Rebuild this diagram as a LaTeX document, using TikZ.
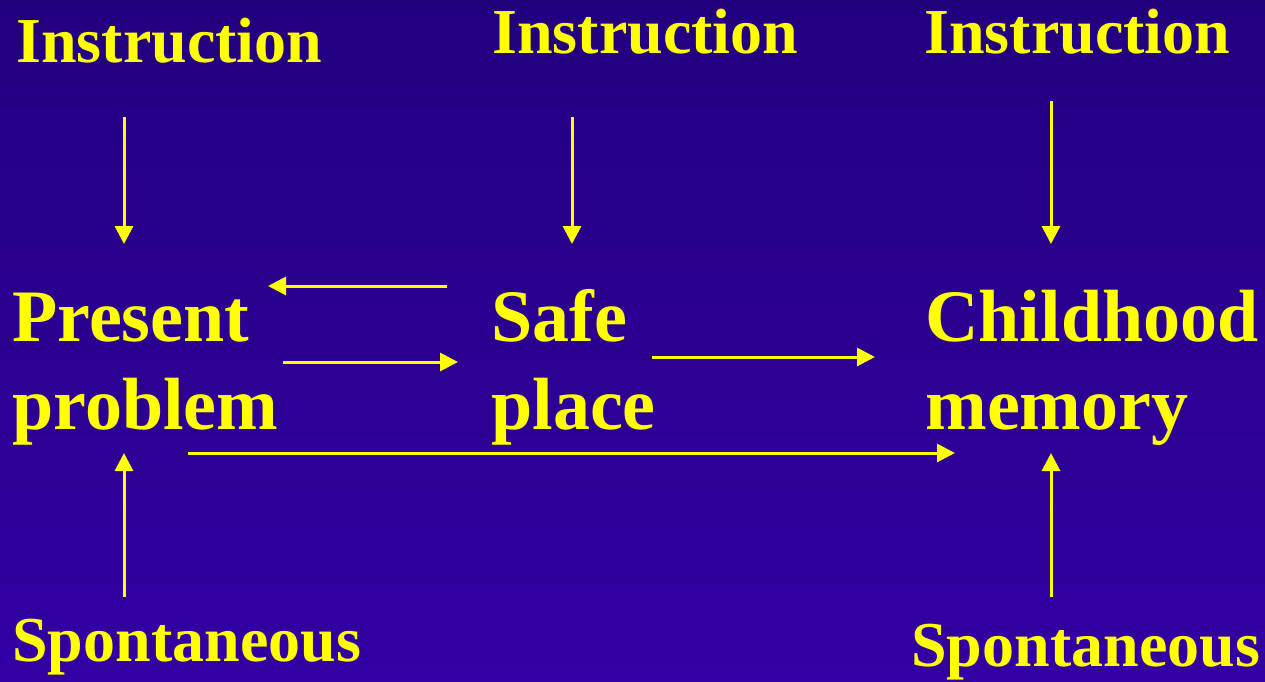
\documentclass[tikz,border=0pt]{standalone}
\usepackage{fontspec}
\setmainfont{Liberation Serif}
\usepackage{tikz}
\usetikzlibrary{arrows.meta,positioning,calc}

\definecolor{bgtop}{RGB}{33,0,126}
\definecolor{bgbot}{RGB}{51,0,163}
\definecolor{lbl}{RGB}{255,255,0}

\tikzset{
  small/.style={inner sep=0, anchor=base west, text=lbl, font=\fontsize{32}{38}\selectfont\bfseries},
  big/.style={inner sep=0, anchor=base west, text=lbl, align=left, font=\fontsize{37}{44}\selectfont\bfseries},
  arr/.style={draw=lbl, line width=1.5pt, -{Triangle[length=9pt,width=9pt]}}
}

\begin{document}
\begin{tikzpicture}[x=0.5pt,y=-0.5pt]
	  \shade[top color=bgtop, bottom color=bgbot] (0,0) rectangle (1265,681);
	  \useasboundingbox (0,0) rectangle (1265,681);
	  % sources
	  \node[small] (instrA) at (16,62) {Instruction};
	  \node[small] (instrB) at (492,53) {Instruction};
	  \node[small] (instrC) at (924,53) {Instruction};
	  \node[small] (spontA) at (12,661) {Spontaneous};
	  \node[small] (spontB) at (911,666) {Spontaneous};
	  % the three stages (base = last line)
	  \node[big] (pres) at (12,429) {Present\\problem};
	  \node[big] (safe) at (491,429) {Safe\\place};
	  \node[big] (child) at (925,429) {Childhood\\memory};
	  % arrows
	  \draw[arr] ($(instrA.base west)+(108,55)$) -- ($(pres.base west)+(112,-185)$);
	  \draw[arr] ($(instrB.base west)+(80,64)$) -- ($(safe.base west)+(81,-185)$);
	  \draw[arr] ($(instrC.base west)+(127,48)$) -- ($(child.base west)+(126,-185)$);
	  \draw[arr] ($(safe.base west)+(-44,-143)$) -- ($(pres.base west)+(256,-143)$);
	  \draw[arr] ($(pres.base west)+(271,-67)$) -- ($(safe.base west)+(-33,-67)$);
	  \draw[arr] ($(safe.base west)+(161,-72)$) -- ($(child.base west)+(-50,-72)$);
	  \draw[arr] ($(pres.base west)+(176,24)$) -- ($(child.base west)+(30,24)$);
	  \draw[arr] ($(spontA.base west)+(112,-64)$) -- ($(pres.base west)+(112,24)$);
	  \draw[arr] ($(spontB.base west)+(140,-69)$) -- ($(child.base west)+(126,24)$);
	\end{tikzpicture}
\end{document}
